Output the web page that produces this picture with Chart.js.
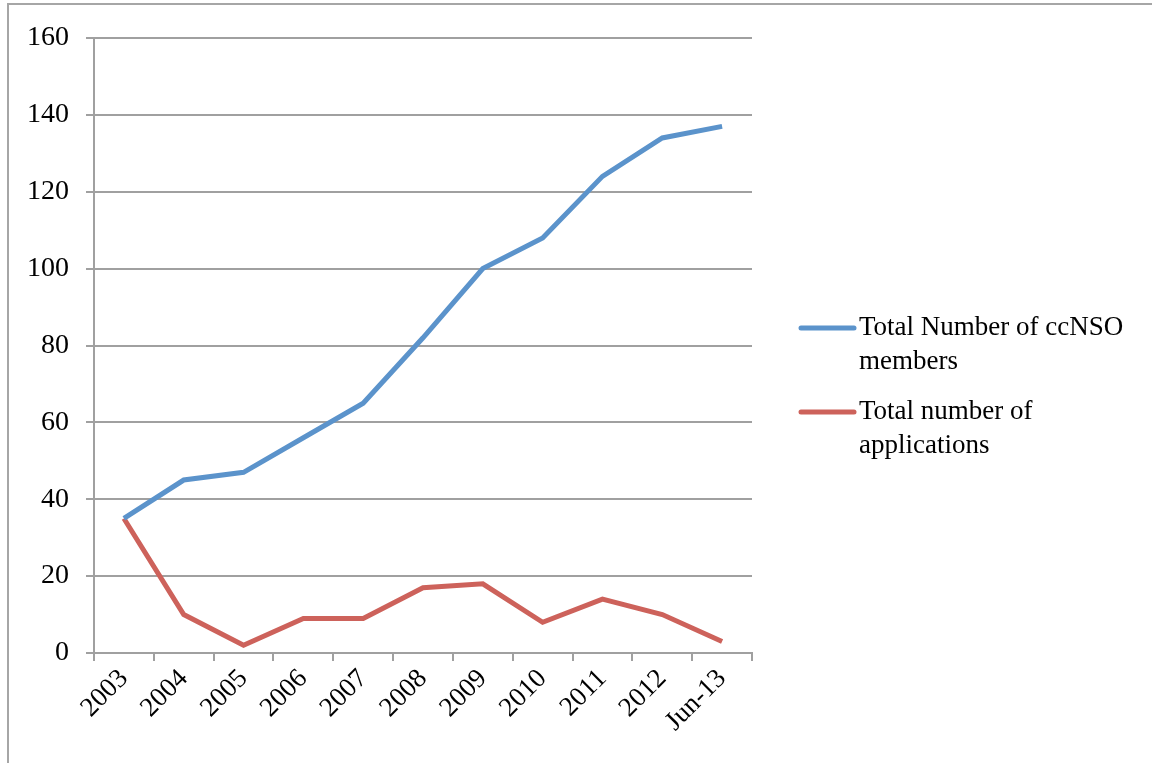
<!DOCTYPE html>
<html>
<head>
<meta charset="utf-8">
<script src="https://cdn.jsdelivr.net/npm/chart.js@4/dist/chart.umd.min.js"></script>
<style>
  html, body { margin: 0; padding: 0; background: #fff; overflow: hidden; }
  #wrap { position: relative; width: 1152px; height: 763px; }
  #frame { position: absolute; left: 7px; top: 3px; width: 1200px; height: 800px;
           border-left: 2px solid #a6a6a6; border-top: 2px solid #a6a6a6; pointer-events: none; }
</style>
</head>
<body>
<div id="wrap">
  <canvas id="chart" width="1152" height="763"></canvas>
  <div id="frame"></div>
</div>
<script>
let categories = ["2003", "2004", "2005", "2006", "2007", "2008", "2009", "2010", "2011", "2012", "Jun-13"]
let members = [35, 45, 47, 56, 65, 82, 100, 108, 124, 134, 137]
let applications = [35, 10, 2, 9, 9, 17, 18, 8, 14, 10, 3]
let yTicks = [0, 20, 40, 60, 80, 100, 120, 140, 160]
let lineColors = ["#5b93cb", "#cd625b"]
let seriesNames = [["Total Number of ccNSO", "members"], ["Total number of", "applications"]]

let serif = "'Liberation Serif', 'DejaVu Serif', serif"

// legend drawn by hand so the labels can wrap onto two lines
const sideLegend = {
  id: "sideLegend",
  afterDraw(chart) {
    const ctx = chart.ctx
    ctx.save()
    ctx.font = "27px " + serif
    ctx.fillStyle = "#000"
    ctx.textBaseline = "middle"
    let tops = [328, 412]
    chart.data.datasets.forEach((ds, i) => {
      let y = tops[i]
      ctx.strokeStyle = ds.borderColor
      ctx.lineWidth = 5
      ctx.lineCap = "round"
      ctx.beginPath()
      ctx.moveTo(801, y)
      ctx.lineTo(854, y)
      ctx.stroke()
      seriesNames[i].forEach((line, j) => {
        ctx.fillText(line, 859, y + j * 34)
      })
    })
    ctx.restore()
  }
}

new Chart("chart", {
  type: "line",
  data: {
    labels: categories,
    datasets: [{
      label: seriesNames[0].join(" "),
      data: members,
      borderColor: lineColors[0],
      borderWidth: 5,
      pointRadius: 0,
      tension: 0
    }, {
      label: seriesNames[1].join(" "),
      data: applications,
      borderColor: lineColors[1],
      borderWidth: 5,
      pointRadius: 0,
      tension: 0
    }]
  },
  options: {
    responsive: false,
    animation: false,
    layout: { padding: { left: 0, right: 400, top: 38, bottom: 0 } },
    plugins: { legend: { display: false }, tooltip: { enabled: false } },
    scales: {
      x: {
        offset: true,
        grid: { offset: true, drawOnChartArea: false, drawTicks: true, tickLength: 8, color: "#a0a0a0", lineWidth: 2 },
        border: { color: "#a0a0a0", width: 2 },
        ticks: { color: "#000", font: { family: serif, size: 27 }, maxRotation: 45, minRotation: 45, padding: 2 },
        afterFit(scale) { scale.height = 110 }
      },
      y: {
        min: 0,
        max: 160,
        afterBuildTicks(scale) { scale.ticks = yTicks.map(v => ({ value: v })) },
        grid: { color: "#a0a0a0", lineWidth: 2, tickLength: 8 },
        border: { color: "#a0a0a0", width: 2 },
        ticks: { color: "#000", font: { family: serif, size: 28 }, padding: 17 },
        afterFit(scale) { scale.width = 94 }
      }
    }
  },
  plugins: [sideLegend]
})
</script>
</body>
</html>
